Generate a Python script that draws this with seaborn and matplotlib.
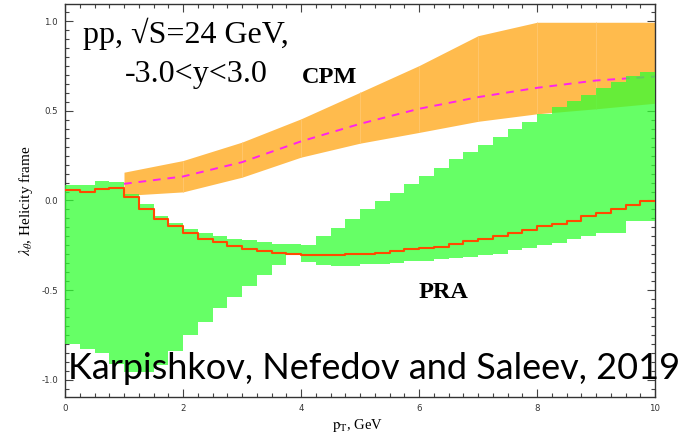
import numpy as np
import pandas as pd
import matplotlib
matplotlib.use("Agg")
import matplotlib.pyplot as plt
import seaborn as sns
from matplotlib.ticker import MultipleLocator

# ---------------- data ----------------
pt_edges = [0.0, 0.25, 0.5, 0.75, 1.0, 1.25, 1.5, 1.75, 2.0, 2.25, 2.5, 2.75,
            3.0, 3.25, 3.5, 3.75, 4.0, 4.25, 4.5, 4.75, 5.0, 5.25, 5.5, 5.75,
            6.0, 6.25, 6.5, 6.75, 7.0, 7.25, 7.5, 7.75, 8.0, 8.25, 8.5, 8.75,
            9.0, 9.25, 9.5, 9.75, 10.0]

pra_lower = [-0.80, -0.83, -0.85, -0.91, -0.96, -0.96, -0.92, -0.84, -0.753, -0.68,
             -0.60, -0.54, -0.48, -0.418, -0.359, -0.303, -0.344, -0.359, -0.363, -0.363,
             -0.357, -0.353, -0.350, -0.340, -0.335, -0.329, -0.320, -0.316, -0.307, -0.297,
             -0.279, -0.266, -0.251, -0.238, -0.214, -0.200, -0.180, -0.180, -0.115, -0.112]
pra_upper = [0.084, 0.088, 0.108, 0.102, 0.037, -0.018, -0.084, -0.124, -0.158, -0.182,
             -0.200, -0.214, -0.223, -0.232, -0.242, -0.242, -0.247, -0.200, -0.152, -0.102,
             -0.050, -0.004, 0.043, 0.093, 0.139, 0.182, 0.229, 0.270, 0.312, 0.357,
             0.400, 0.441, 0.484, 0.520, 0.558, 0.591, 0.626, 0.660, 0.693, 0.717]
pra_central = [0.060, 0.050, 0.065, 0.069, 0.018, -0.046, -0.102, -0.145, -0.180, -0.214,
               -0.232, -0.255, -0.270, -0.283, -0.292, -0.301, -0.303, -0.303, -0.303, -0.301,
               -0.297, -0.292, -0.283, -0.273, -0.264, -0.257, -0.242, -0.227, -0.214, -0.197,
               -0.182, -0.164, -0.145, -0.130, -0.112, -0.089, -0.069, -0.046, -0.024, -0.004]

cpm_pt = [1, 2, 3, 4, 5, 6, 7, 8, 9, 10]
cpm_lower = [0.028, 0.048, 0.130, 0.242, 0.320, 0.380, 0.442, 0.484, 0.512, 0.543]
cpm_upper = [0.158, 0.223, 0.326, 0.456, 0.604, 0.753, 0.920, 0.995, 0.995, 0.995]
cpm_central = [0.093, 0.134, 0.214, 0.330, 0.428, 0.512, 0.577, 0.629, 0.670, 0.692]

x_ticks = [0, 2, 4, 6, 8, 10]
y_ticks = [-1.0, -0.5, 0.0, 0.5, 1.0]

# ---------------- style ----------------
sns.set_theme(style="ticks")
plt.rcParams["font.family"] = ["DejaVu Sans"]
plt.rcParams["mathtext.fontset"] = "stix"
plt.rcParams["text.color"] = "black"
plt.rcParams["axes.labelcolor"] = "black"

W, H = 683, 433
fig = plt.figure(figsize=(W / 100, H / 100), dpi=100)
fig.patch.set_facecolor("white")
ax = fig.add_axes([65 / W, 1 - 397 / H, 590 / W, 393 / H])
ax.set_facecolor("white")

# CPM band
ax.fill_between(cpm_pt, cpm_lower, cpm_upper, color="#FFBB4D", lw=0, zorder=1)
ax.vlines(cpm_pt[1:-1], [cpm_lower[i] for i in range(1, len(cpm_pt) - 1)],
          [cpm_upper[i] for i in range(1, len(cpm_pt) - 1)],
          color="#FFC870", lw=0.6, zorder=1.1)
cpm_df = pd.DataFrame({"pt": cpm_pt, "lam": cpm_central})
sns.lineplot(data=cpm_df, x="pt", y="lam", ax=ax, color="#FF22EE", lw=1.4,
             linestyle=(0, (4, 3.5)), estimator=None, zorder=2)

# PRA band (bins)
lefts = pt_edges[:-1]
widths = [pt_edges[i + 1] - pt_edges[i] for i in range(len(lefts))]
heights = [u - l for u, l in zip(pra_upper, pra_lower)]
ax.bar(lefts, heights, width=widths, bottom=pra_lower, align="edge",
       color="#33FF33", alpha=0.75, lw=0, zorder=3)

# PRA central step line
pra_df = pd.DataFrame({"pt": pt_edges, "lam": pra_central + [pra_central[-1]]})
sns.lineplot(data=pra_df, x="pt", y="lam", ax=ax, color="#FF4A00", lw=1.5,
             drawstyle="steps-post", estimator=None, zorder=4)

# axes
ax.set_xlim(0, 10)
ax.set_ylim(-1.097, 1.097)
ax.set_xticks(x_ticks)
ax.set_yticks(y_ticks)
ax.set_xticklabels([f"{t:d}" for t in x_ticks])
ax.set_yticklabels([f"{t:.1f}" for t in y_ticks])
ax.xaxis.set_minor_locator(MultipleLocator(0.25))
ax.yaxis.set_minor_locator(MultipleLocator(0.05))
ax.tick_params(which="both", direction="in", top=True, right=True,
               color="#444444", width=0.8, labelsize=6.2, labelcolor="#333333", pad=5)
ax.tick_params(which="major", length=6)
ax.tick_params(which="minor", length=3)
for s in ax.spines.values():
    s.set_color("#333333")
    s.set_linewidth(1.0)

ax.set_xlabel(r"$\mathrm{p_T}$, GeV", family="Liberation Serif", fontsize=10.5)
ax.xaxis.set_label_coords((358 - 65) / 590, -(417 - 397) / 393)
ax.set_ylabel(r"$\lambda_\theta$, Helicity frame", family="Liberation Serif", fontsize=11)
ax.yaxis.set_label_coords(-(65 - 35) / 590, 0.5)

def fx(px):
    return px / W

def fy(py):
    return 1 - py / H

fig.text(fx(83), fy(43), "pp, √S=24 GeV,", family="Liberation Serif",
         fontsize=23, va="baseline", ha="left")
fig.text(fx(125), fy(82), "-3.0<y<3.0", family="Liberation Serif",
         fontsize=23, va="baseline", ha="left")
fig.text(fx(302), fy(83), "CPM", family="Liberation Serif", fontweight="bold",
         fontsize=17.5, va="baseline", ha="left")
fig.text(fx(419), fy(298), "PRA", family="Liberation Serif", fontweight="bold",
         fontsize=17.5, va="baseline", ha="left")
fig.text(fx(68), fy(379), "Karpishkov, Nefedov and Saleev, 2019", family="Lato",
         fontsize=26, va="baseline", ha="left", color="black")

fig.savefig("out.png", dpi=100, facecolor="white")
